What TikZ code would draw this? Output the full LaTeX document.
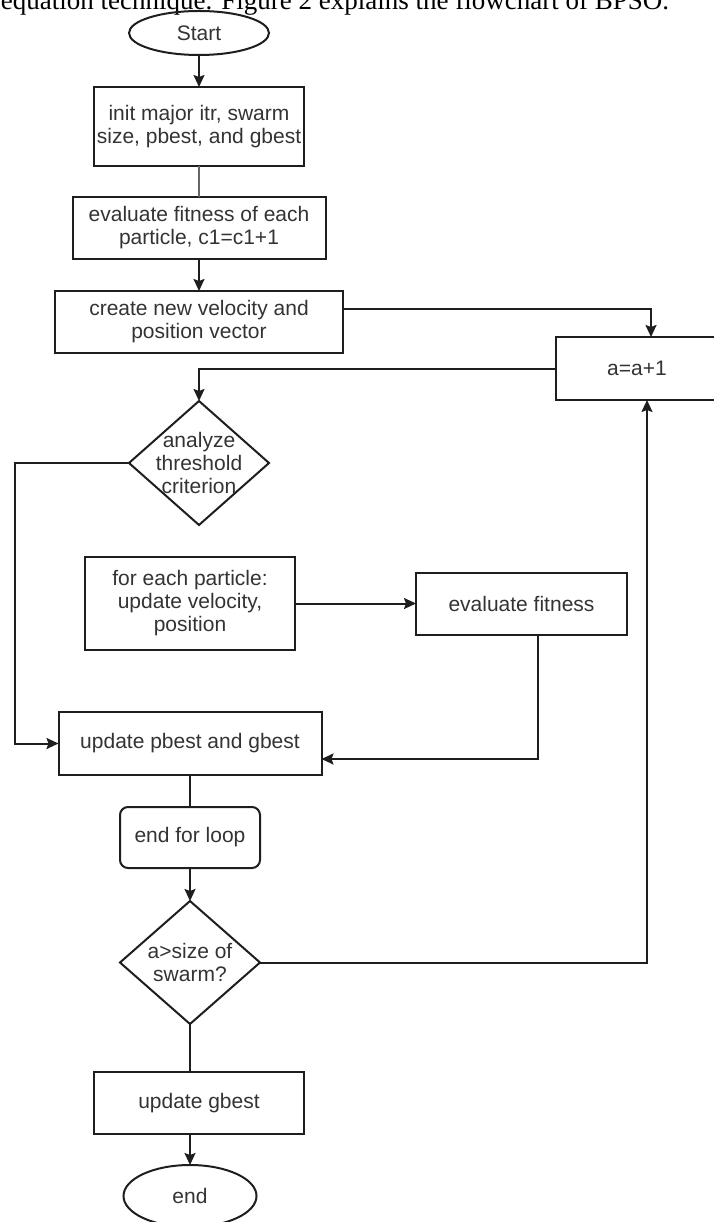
\documentclass[tikz,border=0pt]{standalone}
\usepackage{fontspec}
\setmainfont{Liberation Sans}
\newfontfamily\paperfont{Liberation Serif}
\usetikzlibrary{arrows.meta, positioning, shapes.geometric}

\definecolor{inkgray}{RGB}{51,51,51}
\definecolor{linegray}{RGB}{30,30,30}

\begin{document}
\begin{tikzpicture}[x = 1pt, y = 1pt,
                > = {Stealth[length=12pt, width=11pt, inset=2pt]}, % arrow head style
                node distance = 32pt, % gap between boxes
                line width = 2pt, color = linegray % line style
            ]

            \tikzset{every node/.style = {font = \fontsize{21}{23}\selectfont,
                text = inkgray, align = center, inner sep = 0pt, outer sep = 0pt},
              stepbox/.style = {draw, rectangle, minimum height = 62pt},
              endbox/.style = {draw, ellipse},
              decision/.style = {draw, diamond, minimum width = 140pt,
                minimum height = 124pt},
              conn/.style = {draw = linegray, line width = 2pt}}

            \useasboundingbox (0,0) rectangle (713,-1222);

            % text line of the page, cut by the picture's top edge
            \node[font = \paperfont\fontsize{27}{30}\selectfont, text = black,
              anchor = base west] (caption) at (1,-10)
              {equation technique. Figure 2 explains the flowchart of BPSO.};

            \node[endbox, minimum width = 140pt, minimum height = 44pt] (start)
              at (199,-33) {Start};
            \node[stepbox, minimum width = 210pt, minimum height = 79pt] (init)
              [below=of start] {init major itr, swarm\\size, pbest, and gbest};
            \node[stepbox, minimum width = 253pt] (fitall) [below=31pt of init]
              {evaluate fitness of each\\particle, c1=c1+1};
            \node[stepbox, minimum width = 288pt] (create) [below=of fitall]
              {create new velocity and\\position vector};
            \node[stepbox, minimum width = 162pt, minimum height = 63pt] (incr)
              at (637,-368.5) {a=a+1};
            \node[decision, label = {center:analyze\\threshold\\criterion}]
              (thresh) [below=48pt of create] {};
            \node[stepbox, minimum width = 210pt, minimum height = 93pt] (move)
              [below=of thresh, xshift=-9pt]
              {for each particle:\\update velocity,\\position};
            \node[stepbox, minimum width = 211pt] (fitone) [right=121pt of move]
              {evaluate fitness};
            \node[stepbox, minimum width = 263pt, minimum height = 63pt] (pbest)
              [below=62pt of move] {update pbest and gbest};
            \node[stepbox, rounded corners = 8pt, minimum width = 140pt,
              minimum height = 61pt] (loopend) [below=of pbest] {end for loop};
            \node[decision, minimum height = 123pt,
              label = {center:a>size of\\swarm?}] (sizeq) [below=33pt of loopend] {};
            \node[stepbox, minimum width = 210pt] (gbest)
              [below=48pt of sizeq, xshift=9pt] {update gbest};
            \node[endbox, minimum width = 133pt, minimum height = 62pt] (stop)
              [below=31pt of gbest, xshift=-9pt] {end};

            \path[conn, ->] (start) edge (init);
            \draw[conn, draw = black!60, line width = 2.6pt] (init.south) -- (fitall.north);
            \path[conn, ->] (fitall) edge (create);
            \draw[conn, ->] ([yshift=13pt]create.east) -| ([xshift=14pt]incr.north);
            \draw[conn, ->] (incr.west) -| (thresh.north);
            \draw[conn, ->] (thresh.west) -- ++(-114,0) |- (pbest.west);
            \path[conn, ->] (move) edge (fitone);
            \draw[conn, ->] ([xshift=16.5pt]fitone.south) |- ([yshift=-15.5pt]pbest.east);
            \draw[conn] (pbest) -- (loopend);
            \path[conn, ->] (loopend) edge (sizeq);
            \draw[conn, ->] (sizeq.east) -| ([xshift=10pt]incr.south);
            \draw[conn] (sizeq.south) -- (sizeq.south |- gbest.north);
            \draw[conn, ->] (stop.north |- gbest.south) -- (stop.north);
\end{tikzpicture}
\end{document}
